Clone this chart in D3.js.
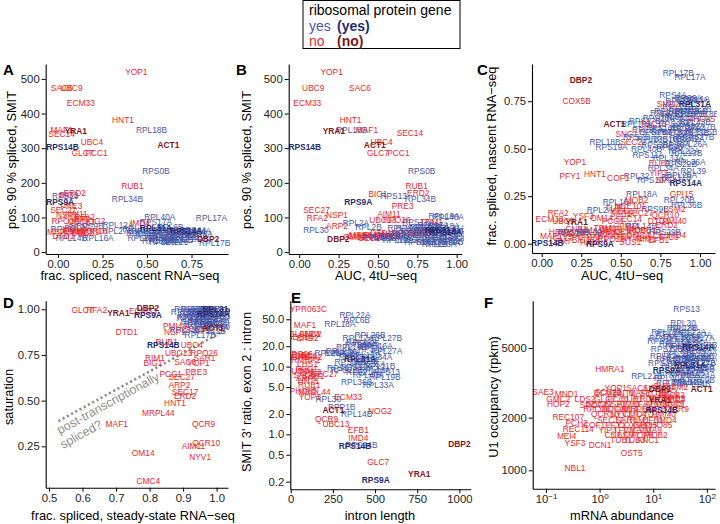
<!DOCTYPE html>
<html><head><meta charset="utf-8">
<script src="https://cdn.jsdelivr.net/npm/d3@7/dist/d3.min.js"></script>
<style>body{margin:0;background:#fff}svg{display:block;font-family:"Liberation Sans",Arial,Helvetica,sans-serif}</style>
</head><body><svg id="c" width="720" height="524"></svg>
<script>
// ---------------- DATA ----------------
// group codes: y = ribosomal protein gene, n = not, Y / N = highlighted (bold)
const dataA = [
["YOP1",.44,519,"n"],["SAC6",.02,473,"n"],["UBC9",.075,473,"n"],["ECM33",.128,430,"n"],["HNT1",.365,381,"n"],
["RPL18B",.525,353,"y"],["MAF1",.02,353,"n"],["SEC14",.02,341,"n"],["YRA1",.10,350,"N"],["UBC4",.19,319,"n"],
["ACT1",.62,308,"N"],["RPS14B",.025,302,"Y"],["GLC7",.137,287,"n"],["PCC1",.216,287,"n"],["RPS0B",.55,235,"y"],
["RUB1",.418,191,"n"],["ERD2",.094,170,"n"],["BIG1",.06,166,"n"],["RPS13",.04,161,"y"],["RPL34B",.39,153,"y"],
["RPS9A",.012,144,"Y"],["PRE3",.075,134,"n"],["SEC27",.03,120,"n"],["NSP1",.05,108,"n"],["AIM11",.10,111,"n"],
["RFA2",.15,101,"n"],["ARP2",.12,95,"n"],["RPO26",.04,91,"n"],["UBC13",.13,88,"n"],["NOG2",.20,90,"n"],
["RPL30",.03,66,"y"],["RPL2A",.11,70,"y"],["RPS9B",.178,75,"y"],["RPL12A",.337,77,"y"],["RPL27B",.334,61,"y"],
["RPL16A",.225,40,"y"],["RPL14B",.075,40,"y"],
["MRPL44",.03,57,"n"],["OM14",.09,60,"n"],["SNC1",.14,56,"n"],["QCR9",.17,58,"n"],["DTD1",.03,46,"n"],["PMI40",.10,64,"n"],
["QCR10",.20,62,"n"],
["IMD4",.46,84,"n"],["YSF3",.72,49,"n"],["EFB1",.68,57,"n"],
["RPL40A",.572,102,"y"],["RPS17A",.55,86,"y"],["RPL17A",.862,99,"y"],["RPL17B",.88,25,"y"],["RPL23A",.60,28,"y"],
["RPL22A",.478,41,"y"],["DBP2",.843,37,"N"],
["RPL36A",.62,65,"y"],["RPL13B",.66,60,"y"],["RPS11A",.50,60,"y"],["RPL39",.58,54,"y"],["RPL20A",.70,58,"y"],
["RPS4A",.76,64,"y"],["RPS22B",.64,50,"y"],["RPL33A",.52,48,"y"],["RPL19B",.68,44,"y"],["RPS10A",.74,55,"y"],
["RPL11B",.57,40,"y"],["RPS26A",.62,34,"y"],["RPL26B",.47,55,"y"],["RPL27A",.53,62,"y"],["RPS29B",.67,36,"y"],
["RPS18A",.75,44,"y"],["RPL6B",.63,72,"y"],["RPL18A",.45,67,"y"],["RPS16A",.78,52,"y"],["RPL43A",.60,47,"y"],
["RPL21A",.71,38,"y"],["RPL35A",.56,32,"y"],["RPL25",.66,28,"y"],["RPS24A",.77,60,"y"],
["RPL31A",.55,68,"Y"],["RPS14A",.72,62,"Y"]
];
const dataB = [
["YOP1",.206,519,"n"],["UBC9",.089,473,"n"],["SAC6",.386,473,"n"],["ECM33",.051,430,"n"],["HNT1",.326,381,"n"],
["YRA1",.22,350,"N"],["RPL18B",.333,353,"y"],["MAF1",.43,353,"n"],["SEC14",.703,343,"n"],["UBC4",.523,319,"n"],
["ACT1",.48,308,"N"],["RPS14B",.035,302,"Y"],["GLC7",.50,287,"n"],["PCC1",.63,287,"n"],["RPS0B",.778,235,"y"],
["RUB1",.746,191,"n"],["ERD2",.756,170,"n"],["RPL34B",.77,153,"y"],["BIG1",.50,168,"n"],["RPS13",.60,163,"y"],
["RPS9A",.375,144,"Y"],["PRE3",.657,134,"n"],["SEC27",.11,120,"n"],["RFA2",.115,97,"n"],["NSP1",.24,107,"n"],
["AIM11",.57,110,"n"],["UBC13",.53,92,"n"],["RPO26",.62,92,"n"],["RPL2A",.36,83,"y"],["ARP2",.24,75,"n"],
["RPL2B",.44,73,"y"],["RPL30",.106,64,"y"],["DBP2",.248,38,"N"],["OM14",.35,44,"n"],
["RPS17A",.756,88,"y"],["TRM1",.84,86,"n"],["RPL40A",.947,102,"y"],["RPL19A",.92,104,"y"],
["MRPL44",.42,50,"n"],["SNC1",.48,50,"n"],["QCR9",.55,46,"n"],["NYV1",.44,44,"n"],["CMC4",.38,46,"n"],
["NOG2",.60,52,"n"],["DTD1",.52,54,"n"],["SAR1",.78,60,"n"],["YSF3",.82,58,"n"],["EFB1",.80,54,"n"],
["IMD4",.58,46,"n"],["QCR10",.76,56,"n"],["PMI40",.66,52,"n"],["SEC17",.46,40,"n"],["RIM1",.81,64,"n"],
["RPL12A",.66,70,"y"],["RPL27B",.60,45,"y"],["RPL16A",.55,40,"y"],["RPL14B",.50,42,"y"],["RPS9B",.70,68,"y"],
["RPL36A",.95,62,"y"],["RPL13B",.88,55,"y"],["RPS11A",.82,50,"y"],["RPL39",.93,45,"y"],["RPL20A",.98,60,"y"],
["RPS4A",.86,70,"y"],["RPS22B",.97,40,"y"],["RPL33A",.72,35,"y"],["RPL19B",.91,35,"y"],["RPS10A",.76,40,"y"],
["RPL11B",.84,30,"y"],["RPS26A",.99,52,"y"],["RPL26B",.80,72,"y"],["RPL27A",.88,42,"y"],["RPS29B",.94,28,"y"],
["RPS18A",.77,30,"y"],["RPL6B",.67,55,"y"],["RPL18A",.92,75,"y"],["RPS16A",.71,50,"y"],["RPL43A",.83,64,"y"],
["RPL21A",.96,68,"y"],["RPL35A",.74,60,"y"],["RPL25",.86,22,"y"],["RPL17A",.85,78,"y"],["RPL17B",.99,33,"y"],
["RPL23A",.90,22,"y"],["RPL22A",.63,35,"y"],["RPL31A",.90,65,"Y"],["RPS14A",.93,58,"Y"]
];
const dataC = [
["RPL17B",.863,.90,"y"],["RPL17A",.937,.876,"y"],["DBP2",.248,.862,"N"],["COX5B",.221,.751,"n"],["RPS4A",.83,.783,"y"],
["RPS6A",.926,.766,"y"],["SMD2",.80,.735,"n"],["ACT1",.46,.63,"N"],["PHO85",1.01,.655,"n"],["SNC1",.537,.578,"n"],
["SEC22",.58,.537,"n"],["RPL18B",.40,.537,"y"],["RPS19A",.442,.508,"y"],["RPS17B",.652,.648,"y"],["RPL19A",.60,.629,"y"],
["TSC13",.705,.629,"n"],["RPL27B",1.0,.616,"y"],["RPS7B",.60,.56,"y"],["RPL40B",.663,.50,"y"],["RPS8B",.81,.508,"y"],
["RPS8A",.895,.555,"y"],["RPL16B",.81,.70,"y"],["RPS26B",.947,.70,"y"],["RPL7A",.768,.687,"y"],["RPL35B",.94,.68,"y"],
["RPS10B",.79,.55,"y"],["RPL13A",.88,.75,"y"],["RPS24A",.95,.755,"y"],["RPL21B",.86,.72,"y"],["RPL2B",.99,.71,"y"],
["RPS21A",.89,.66,"y"],["RPL43B",.97,.64,"y"],["RPS29A",.84,.63,"y"],["RPL37A",.91,.61,"y"],["RPS16B",.76,.61,"y"],
["RPL14A",.86,.59,"y"],["RPL33B",.96,.585,"y"],["RPS25A",.72,.59,"y"],["RPL42A",.93,.55,"y"],["RPS27B",.99,.56,"y"],
["RPL23B",.70,.55,"y"],["RPS0A",.85,.52,"y"],["RPL26A",.95,.525,"y"],["RPS30A",.73,.52,"y"],["RPL22A",.90,.49,"y"],
["RPS18B",1.02,.68,"y"],["RPL6A",.82,.665,"y"],["RPS23A",.74,.66,"y"],["RPL42B",.90,.70,"y"],["RPL1A",.98,.76,"y"],
["RPS11B",.86,.68,"y"],["RPL37B",.79,.59,"y"],["RPS22A",.93,.62,"y"],["RPL35A",.67,.60,"y"],["RPS25B",1.01,.59,"y"],
["RPS11A",.673,.467,"y"],["RPL13B",.916,.476,"y"],["RPL36A",.937,.432,"y"],["RUB1",.747,.423,"n"],["RPL39",.958,.384,"y"],
["RPL34A",.768,.397,"y"],["YIP3",.737,.374,"n"],["RPL20A",.884,.362,"y"],["RPL32",.60,.357,"y"],["RPS10A",.705,.336,"y"],
["SPT4",.79,.336,"n"],["COF1",.484,.348,"n"],["HNT1",.337,.367,"n"],["PFY1",.179,.357,"n"],["YOP1",.21,.432,"n"],
["RPL11B",.85,.35,"y"],["RPS22B",.88,.42,"y"],["RPL33A",.80,.45,"y"],
["RPL18A",.632,.26,"y"],["GPI15",.884,.26,"n"],["RPL16A",.484,.221,"y"],["MOB2",.60,.23,"n"],["RPL20B",.87,.232,"y"],
["RPL36B",.916,.204,"y"],["RPS9B",.716,.181,"y"],["LSM2",.84,.181,"n"],["RPL2A",.368,.177,"y"],["SEC27",.62,.16,"n"],
["SEC17",.53,.17,"n"],["TUB1",.47,.19,"n"],["NCE101",.56,.20,"n"],["SAR1",.50,.155,"n"],["QCR10",.78,.151,"n"],
["RFA2",.105,.16,"n"],["YSF3",.263,.146,"n"],["OM14",.379,.134,"n"],["ECM33",.05,.128,"n"],["UBC9",.137,.121,"n"],
["YRA1",.221,.116,"N"],["AIM11",.547,.093,"n"],["RPL14B",.63,.095,"y"],["ERD2",.79,.098,"n"],["DTD1",.74,.12,"n"],
["PMI40",.84,.12,"n"],["UBC13",.67,.072,"n"],["SEC14",.55,.13,"n"],["PCC1",.45,.12,"n"],
["HRB1",.116,.063,"n"],["MAF1",.06,.04,"n"],["GLC7",.14,.03,"n"],["UBC4",.20,.05,"n"],["BIG1",.25,.02,"n"],
["PRE3",.30,.045,"n"],["NSP1",.35,.03,"n"],["ARP2",.40,.05,"n"],["RPO26",.44,.025,"n"],["NOG2",.49,.04,"n"],
["QCR9",.53,.06,"n"],["NYV1",.57,.03,"n"],["CMC4",.61,.045,"n"],["RIM1",.66,.025,"n"],["SAC6",.70,.04,"n"],
["EFB1",.74,.02,"n"],["IMD4",.85,.045,"n"],["MRPL44",.48,.075,"n"],["TRM1",.40,.08,"n"],["VMA10",.33,.07,"n"],
["CNB1",.22,.075,"n"],["LSM7",.12,.015,"n"],["POP8",.62,.07,"n"],["TFC3",.80,.035,"n"],["SUS1",.56,.01,"n"],
["TUB3",.30,.01,"n"],["ANC1",.17,.055,"n"],["VMA9",.44,.06,"n"],
["RPS30B",.20,.062,"y"],["RPS29B",.78,.063,"y"],["RPL30",.30,.06,"y"],
["RPL31A",.968,.734,"Y"],["RPS14A",.91,.321,"Y"],["RPS14B",.036,.002,"Y"],["RPS9A",.368,-.002,"Y"]
];
const dataD = [
["GLC7",.60,.996,"n"],["RFA2",.642,.996,"n"],["ECM33",.78,.99,"n"],["DTD1",.732,.877,"n"],["PMI40",.876,.908,"n"],
["NSP1",.876,.875,"n"],["SEC14",.94,.89,"n"],["RPL34B",.906,.887,"y"],["RPL17B",.951,.86,"y"],["RUB1",.851,.823,"n"],
["UBC4",.926,.805,"n"],["UBC13",.886,.763,"n"],["RPO26",.963,.76,"n"],["SAR1",.964,.732,"n"],["RIM1",.816,.732,"n"],
["BIG1",.81,.708,"n"],["SAC6",.906,.713,"n"],["YOP1",.946,.704,"n"],["PRE3",.939,.655,"n"],["PCC1",.863,.646,"n"],
["SEC27",.896,.631,"n"],["ARP2",.889,.586,"n"],["SEC17",.906,.549,"n"],["ERD2",.906,.525,"n"],["HNT1",.876,.485,"n"],
["MRPL44",.826,.434,"n"],["MAF1",.702,.37,"n"],["QCR9",.961,.372,"n"],["QCR10",.969,.27,"n"],["AIM11",.931,.253,"n"],
["NYV1",.951,.19,"n"],["OM14",.781,.212,"n"],["CMC4",.796,.062,"n"],
["RPL18B",.92,1.0,"y"],["RPL17A",.96,.99,"y"],["RPS0B",.93,.975,"y"],["RPL40A",.95,.955,"y"],["RPS13",.92,.95,"y"],
["RPL12A",.96,.935,"y"],["RPL27B",.98,.92,"y"],["RPS17A",1.0,.95,"y"],["RPL16A",.91,.985,"y"],["RPL14B",.94,1.0,"y"],
["RPS9B",.97,1.0,"y"],["RPL30",.99,.995,"y"],["RPL2A",.95,.975,"y"],["RPL2B",1.0,.985,"y"],["RPL36A",.97,.96,"y"],
["RPL13B",1.01,.965,"y"],["RPS11A",.94,.93,"y"],["RPL39",1.0,.93,"y"],["RPL20A",.96,.915,"y"],["RPS4A",1.01,.9,"y"],
["RPS22B",.98,.88,"y"],["RPL33A",.985,.945,"y"],["RPL19B",1.01,.99,"y"],["RPS10A",.95,.92,"y"],["RPL11B",.93,.96,"y"],
["RPS26A",1.0,.915,"y"],["RPL26B",.975,.985,"y"],["RPL6B",.94,.985,"y"],
["YRA1",.707,.98,"N"],["DBP2",.795,1.005,"N"],["RPS9A",.795,.97,"Y"],["ACT1",.99,.896,"N"],["RPS14B",.841,.805,"Y"],
["RPL31A",1.005,1.0,"Y"],["RPS14A",.99,.975,"Y"]
];
const diagLine = [[0.528,0.388],[1.034,0.894]];
const dataE = [
["YPR063C",105,70,"n"],["MAF1",85,40.7,"n"],["YBL059W",70,30,"n"],["SNC1",115,30,"n"],["ERD2",100,26.5,"n"],["SEC14",55,27,"n"],
["RPO26",50,15.2,"n"],["NSP1",40,14,"n"],["UBC9",90,14.2,"n"],["RFA2",125,13.8,"n"],["BIG1",65,14.8,"n"],["RMRP2",90,12.5,"n"],
["LHS1",100,10.9,"n"],["PCC1",95,9.2,"n"],["SEC27",203,7.7,"n"],["ARF1",95,6.7,"n"],["PRE3",115,8.3,"n"],["UBC4",70,8.5,"n"],
["SAR1",135,7.2,"n"],["SAC6",80,7.4,"n"],["RUB1",110,5.4,"n"],["PHO85",75,4.3,"n"],["MRPL44",140,4.26,"n"],["YOP1",114,3.6,"n"],
["HNT1",105,6.2,"n"],["ECM33",341,3.6,"n"],["NOG2",529,2.2,"n"],["QCR9",213,1.67,"n"],["UBC13",268,1.42,"n"],["EFB1",401,1.16,"n"],
["IMD4",401,.873,"n"],["GLC7",519,.394,"n"],
["RPL22A",381,57,"y"],["RPL6B",391,49,"y"],["RPL18A",292,43,"y"],["RPL26B",470,29,"y"],["RPL27B",568,26,"y"],["RPL19A",421,23.3,"y"],
["RPS30A",415,21,"y"],["RPL16B",361,19.6,"y"],["RPL27A",569,17,"y"],["RPL43A",292,15.6,"y"],["RPL20A",233,15.6,"y"],["RPL34A",510,13.7,"y"],
["RPS10A",355,11.6,"y"],["RPL11B",529,10.2,"y"],["RPS22B",332,8.9,"y"],["RPS13",569,8.4,"y"],["RPL21A",421,8.4,"y"],["RPL19B",559,7.0,"y"],
["RPL36B",391,6.0,"y"],["RPL33A",519,5.4,"y"],["RPL30",223,3.34,"y"],["RPP1B",302,2.56,"y"],["RPL14B",391,2.0,"y"],["RPS24B",420,.69,"y"],
["RPL2A",330,16,"y"],["RPL13B",440,15,"y"],["RPS4A",480,18,"y"],["RPL35A",470,11,"y"],["RPS11A",390,10,"y"],["RPL12A",500,9,"y"],
["RPS9B",440,12,"y"],["RPL39",360,14,"y"],["RPS17A",310,9.5,"y"],["RPL40A",460,7.5,"y"],["RPL23A",300,17,"y"],["RPS16A",510,20,"y"],
["RPL17A",400,26,"y"],["RPL25",450,22,"y"],
["ACT1",253,2.28,"N"],["DBP2",1000,.72,"N"],["YRA1",762,.257,"N"],["RPS14B",381,.67,"Y"],["RPS9A",504,.212,"Y"],["RPL31A",411,12.8,"Y"]
];
const dataF = [
["RPS13",42,8320,"y"],["RPL30",36,6920,"y"],["RPL28",36,6470,"y"],["RPL18A",17.9,6190,"y"],["RPL27A",64,5930,"y"],
["RPS16A",15.5,5500,"y"],["RPL21A",75,4170,"y"],["RPL22B",7.6,3460,"y"],
["RPL1A",20,6000,"y"],["RPL17A",30,5800,"y"],["RPL2B",45,5600,"y"],["RPS4A",60,5400,"y"],["RPL13B",80,5200,"y"],
["RPL36A",25,5300,"y"],["RPS11A",40,5000,"y"],["RPL39",55,4800,"y"],["RPL20A",80,4700,"y"],["RPS22B",18,4900,"y"],
["RPL33A",30,4600,"y"],["RPL19B",70,4500,"y"],["RPS10A",78,4400,"y"],["RPL11B",22,4300,"y"],["RPS26A",35,4250,"y"],
["RPL26B",50,4400,"y"],["RPL27B",75,4100,"y"],["RPS29B",16,4100,"y"],["RPS18A",28,3950,"y"],["RPL6B",60,3850,"y"],
["RPS0B",78,3800,"y"],["RPL43A",25,3600,"y"],["RPL35A",38,3500,"y"],["RPL25",55,3600,"y"],["RPS24A",72,3500,"y"],
["RPL34B",42,3210,"y"],["RPL40A",20,3350,"y"],["RPL12A",45,3200,"y"],["RPL14B",60,3100,"y"],["RPL16A",22,3150,"y"],
["RPS9B",78,3300,"y"],["RPL18B",35,6500,"y"],["RPL22A",50,6200,"y"],["RPS17A",70,5700,"y"],["RPL23A",78,5000,"y"],
["RPS6A",15,5700,"y"],["RPL7A",30,5100,"y"],["RPS7B",65,4300,"y"],["RPL37A",40,3700,"y"],["RPS21B",70,3900,"y"],
["RPL42A",17,4500,"y"],
["HMRA1",1.56,3780,"n"],["SAE3",.088,2810,"n"],["MND1",.243,2730,"n"],["GMC2",.17,2560,"n"],["HOP2",.17,2380,"n"],
["LDS2",.535,2550,"n"],["SCS22",1.45,2810,"n"],["SPO74",.76,2360,"n"],["REC107",.26,2020,"n"],["PCH2",.374,1860,"n"],
["REC114",.40,1720,"n"],["MEI4",.243,1560,"n"],["YSF3",.348,1440,"n"],["DCN1",1.02,1400,"n"],["OST5",3.97,1260,"n"],
["NBL1",.348,1025,"n"],["ARF1",25.5,2360,"n"],
["YOP1",2.0,2950,"n"],["SAC6",5,2950,"n"],["UBC9",11.2,2950,"n"],
["ECM33",1.41,2750,"n"],["HNT1",2.8,2750,"n"],["MAF1",5.6,2750,"n"],["SEC14",10,2750,"n"],["UBC4",17.8,2750,"n"],
["GLC7",1.26,2570,"n"],["PCC1",2.24,2570,"n"],["RUB1",4,2570,"n"],["ERD2",7.1,2570,"n"],["BIG1",12.6,2570,"n"],["PRE3",25,2570,"n"],
["SEC27",1,2400,"n"],["NSP1",2,2400,"n"],["AIM11",3.5,2400,"n"],["RFA2",6.3,2400,"n"],["ARP2",11.2,2400,"n"],["UBC13",20,2400,"n"],
["RPO26",.89,2240,"n"],["NOG2",1.78,2240,"n"],["OM14",3.16,2240,"n"],["MRPL44",5.6,2240,"n"],["SNC1",10,2240,"n"],["QCR9",28,2240,"n"],
["QCR10",1.26,2090,"n"],["NYV1",2.5,2090,"n"],["CMC4",4.5,2090,"n"],["DTD1",7.9,2090,"n"],["PMI40",15.8,2090,"n"],
["SEC17",1.58,1950,"n"],["SAR1",3.16,1950,"n"],["RIM1",5.6,1950,"n"],["EFB1",10,1950,"n"],["IMD4",17.8,1950,"n"],
["COF1",.79,1820,"n"],["PFY1",2,1820,"n"],["COX5B",4,1820,"n"],["GPI15",7.1,1820,"n"],["PHO85",12.6,1820,"n"],
["YIP3",1.41,1700,"n"],["TFC3",2.8,1700,"n"],["VMA10",5,1700,"n"],["VMA9",8.9,1700,"n"],
["CNB1",2,1585,"n"],["LSM7",3.5,1585,"n"],["POP8",6.3,1585,"n"],["MOB2",11.2,1585,"n"],
["TUB1",2.5,1480,"n"],["TUB3",4.5,1480,"n"],["ANC1",7.9,1480,"n"],
["SUS1",16,3050,"n"],["SEC22",22,2700,"n"],["LSM2",28,3000,"n"],["SMD2",24,2580,"n"],
["RPS14A",69,5090,"Y"],["RPL31A",48.6,3980,"Y"],["RPS9A",17.9,3740,"Y"],["DBP2",13.4,2900,"N"],["ACT1",80,2900,"N"],
["YRA1",13.4,2510,"N"],["RPS14B",14.4,2210,"Y"]
];
// tick values / labels
const ticksA_x = [0,0.25,0.5,0.75], ticksA_xLab = ["0.00","0.25","0.50","0.75"];
const ticksAB_y = [0,100,200,300,400,500];
const ticksBC_x = [0,0.25,0.5,0.75,1], ticksBC_xLab = ["0.00","0.25","0.50","0.75","1.00"];
const ticksC_y = [0,0.25,0.5,0.75], ticksC_yLab = ["0.00","0.25","0.50","0.75"];
const ticksD_x = [0.5,0.6,0.7,0.8,0.9,1.0], ticksD_xLab = ["0.5","0.6","0.7","0.8","0.9","1.0"];
const ticksD_y = [0.25,0.5,0.75,1.0], ticksD_yLab = ["0.25","0.50","0.75","1.00"];
const ticksE_x = [0,250,500,750,1000];
const ticksE_y = [0.2,0.5,1,2,5,10,20,50], ticksE_yLab = ["0.2","0.5","1.0","2.0","5.0","10.0","20.0","50.0"];
const ticksF_x = [0.1,1,10,100], ticksF_xExp = ["\u22121","0","1","2"];
const ticksF_y = [1000,2000,5000];

// ---------------- DRAW ----------------
const colors = {y:"#4657a8", n:"#e8282d", Y:"#262c70", N:"#7e161a"};
const svg = d3.select("#c");
const lab = (v,labs,ticks)=>labs[ticks.indexOf(v)];

const panels = [
 {id:"A",data:dataA,l:45.7,r:228,t:64,b:254,xd:[-0.0695,0.955],yd:[-5.5,543],
  xt:ticksA_x,xf:v=>lab(v,ticksA_xLab,ticksA_x),yt:ticksAB_y,yf:d3.format("d"),
  xtitle:"frac. spliced, nascent RNA\u2212seq",xtx:130,xty:280,ytitle:"pos. 90 % spliced, SMIT",ytx:15.5,yty:160,
  letter:[3,75]},
 {id:"B",data:dataB,l:288.7,r:461.7,t:64,b:254,xd:[-0.067,1.032],yd:[-5.5,543],
  xt:ticksBC_x,xf:v=>lab(v,ticksBC_xLab,ticksBC_x),yt:ticksAB_y,yf:d3.format("d"),
  xtitle:"AUC, 4tU\u2212seq",xtx:376,xty:280,ytitle:"pos. 90 % spliced, SMIT",ytx:250.5,yty:160,letter:[236,75]},
 {id:"C",data:dataC,l:532,r:715,t:64,b:253,xd:[-0.061,1.095],yd:[-0.049,0.946],
  xt:ticksBC_x,xf:v=>lab(v,ticksBC_xLab,ticksBC_x),yt:ticksC_y,yf:v=>lab(v,ticksC_yLab,ticksC_y),
  xtitle:"AUC, 4tU\u2212seq",xtx:622,xty:280,ytitle:"frac. spliced, nascent RNA\u2212seq",ytx:495.5,yty:156,letter:[477,75]},
 {id:"D",data:dataD,l:45.7,r:228,t:300.7,b:487.7,xd:[0.49,1.034],yd:[0.0235,1.047],
  xt:ticksD_x,xf:v=>lab(v,ticksD_xLab,ticksD_x),yt:ticksD_y,yf:v=>lab(v,ticksD_yLab,ticksD_y),
  xtitle:"frac. spliced, steady-state RNA\u2212seq",xtx:133,xty:520,ytitle:"saturation",ytx:12.5,yty:397,letter:[3,308]},
 {id:"E",data:dataE,l:290.3,r:470.7,t:300.7,b:489.3,xd:[-2.4,1067],yd:[0.1542,94.1],ylog:true,
  xt:ticksE_x,xf:d3.format("d"),yt:ticksE_y,yf:v=>lab(v,ticksE_yLab,ticksE_y),
  xtitle:"intron length",xtx:380,xty:520,ytitle:"SMIT 3' ratio, exon 2 : intron",ytx:250.5,yty:392,letter:[291,303]},
 {id:"F",data:dataF,l:532.7,r:715,t:300.7,b:488.7,xd:[0.0565,142],yd:[785,9320],xlog:true,ylog:true,
  xt:ticksF_x,xf:()=>"",yt:ticksF_y,yf:d3.format("d"),
  xtitle:"mRNA abundance",xtx:622,xty:520,ytitle:"U1 occupancy (rpkm)",ytx:497.5,yty:397,letter:[484,308]}
];

panels.forEach(p=>{
  const x = (p.xlog?d3.scaleLog():d3.scaleLinear()).domain(p.xd).range([p.l,p.r]);
  const y = (p.ylog?d3.scaleLog():d3.scaleLinear()).domain(p.yd).range([p.b,p.t]);
  const cid="clip"+p.id;
  svg.append("clipPath").attr("id",cid).append("rect")
    .attr("x",p.l).attr("y",p.t-2).attr("width",p.r-p.l+2).attr("height",p.b-p.t+2);
  const g = svg.append("g").attr("clip-path",`url(#${cid})`);
  if(p.id==="D"){
    g.append("path").datum(diagLine)
      .attr("d",d3.line().x(d=>x(d[0])).y(d=>y(d[1])))
      .attr("stroke","#8f8f8f").attr("stroke-width",2.6).attr("fill","none")
      .attr("stroke-dasharray","2.2,2.6");
  }
  const isBold = d=>d[3]==="Y"||d[3]==="N";
  const ordered = p.data.filter(d=>!isBold(d)).concat(p.data.filter(isBold));
  g.append("g").selectAll("text").data(ordered).join("text")
    .attr("x",d=>x(d[1])).attr("y",d=>y(d[2])).attr("dy","0.35em")
    .attr("text-anchor","middle").attr("font-size",8.4)
    .attr("font-weight",d=>isBold(d)?"bold":"normal")
    .attr("fill",d=>colors[d[3]]).text(d=>d[0]);

  const xa = g=>g.attr("transform",`translate(0,${p.b})`)
    .call(d3.axisBottom(x).tickValues(p.xt).tickFormat(p.xf).tickSize(4).tickSizeOuter(0).tickPadding(2));
  const ya = g=>g.attr("transform",`translate(${p.l},0)`)
    .call(d3.axisLeft(y).tickValues(p.yt).tickFormat(p.yf).tickSize(4).tickSizeOuter(0).tickPadding(2));
  const gx = svg.append("g").call(xa), gy = svg.append("g").call(ya);
  [gx,gy].forEach(a=>{
    a.select(".domain").attr("stroke","#000").attr("stroke-width",1.1);
    a.selectAll(".tick line").attr("stroke","#000").attr("stroke-width",1);
    a.selectAll(".tick text").attr("font-size",11.3).attr("fill","#222")
      .attr("font-family",'"Liberation Sans",Arial,sans-serif');
  });
  if(p.id==="F"){
    gx.selectAll(".tick text").each(function(v){
      const t=d3.select(this); t.text("10");
      t.append("tspan").attr("dy","-0.45em").attr("font-size",8).text(ticksF_xExp[ticksF_x.indexOf(v)]);
    });
  }
  svg.append("text").attr("x",p.xtx).attr("y",p.xty).attr("text-anchor","middle")
    .attr("font-size",12.8).attr("fill","#000").text(p.xtitle);
  svg.append("text").attr("transform",`translate(${p.ytx},${p.yty}) rotate(-90)`)
    .attr("text-anchor","middle").attr("font-size",12.8).attr("fill","#000").text(p.ytitle);
  svg.append("text").attr("x",p.letter[0]).attr("y",p.letter[1]).attr("font-size",15)
    .attr("font-weight","bold").attr("fill","#000").text(p.id);
});

// annotation in D
svg.append("text").attr("transform","translate(110,407) rotate(-28.8)").attr("text-anchor","middle")
  .attr("font-size",12.5).attr("fill","#8f8f8f").text("post-transcriptionally");
svg.append("text").attr("transform","translate(83,438) rotate(-28.8)").attr("text-anchor","middle")
  .attr("font-size",12.5).attr("fill","#8f8f8f").text("spliced?");

// legend
const lg = svg.append("g");
lg.append("rect").attr("x",303).attr("y",0.5).attr("width",157).attr("height",48)
  .attr("fill","#fff").attr("stroke","#000").attr("stroke-width",1);
lg.append("text").attr("x",309).attr("y",15).attr("font-size",14).attr("fill","#000").text("ribosomal protein gene");
lg.append("text").attr("x",309).attr("y",30.5).attr("font-size",14).attr("fill",colors.y).text("yes");
lg.append("text").attr("x",337).attr("y",30.5).attr("font-size",14).attr("font-weight","bold").attr("fill",colors.Y).text("(yes)");
lg.append("text").attr("x",309).attr("y",45.5).attr("font-size",14).attr("fill",colors.n).text("no");
lg.append("text").attr("x",337).attr("y",45.5).attr("font-size",14).attr("font-weight","bold").attr("fill",colors.N).text("(no)");
</script></body></html>
